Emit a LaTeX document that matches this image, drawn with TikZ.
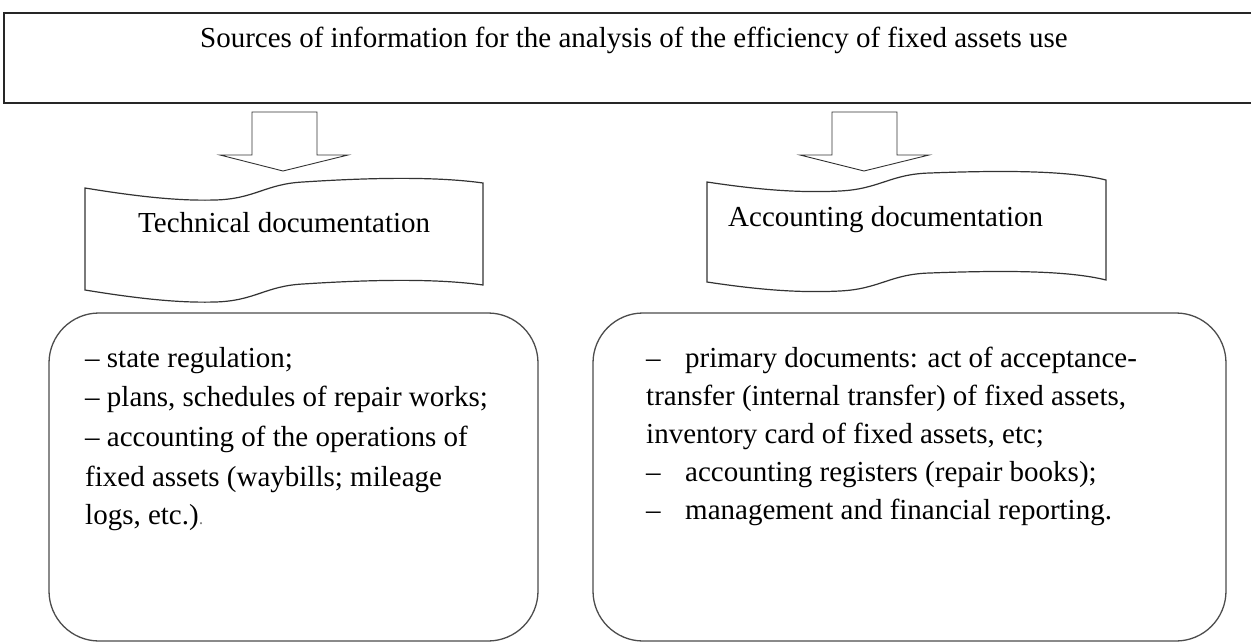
\documentclass[tikz,border=0pt]{standalone}
\usepackage{fontspec}
\setmainfont{Liberation Serif}
\begin{document}
\begin{tikzpicture}[x=1pt,y=-1pt,
  frame/.style={draw=black!85,line width=1.6pt},
  blockarrow/.style={draw=black!80,line width=0.9pt,fill=white,line join=miter},
  docshape/.style={draw=black!80,line width=1.2pt,fill=white},
  roundbox/.style={draw=black!70,line width=1.3pt,rounded corners=50pt},
  txt/.style={inner sep=0pt,anchor=base west,font=\fontsize{29}{34}\selectfont},
  head/.style={inner sep=0pt,anchor=base,font=\fontsize{29}{34}\selectfont}
]
\useasboundingbox (0,0) rectangle (1251,642);
% top frame (open at right edge)
\draw[frame] (1251,13) -- (4,13) -- (4,103) -- (1251,103);
\node[head] (title) at (634,48) {Sources of information for the analysis of the efficiency of fixed assets use};

% block arrows
\draw[blockarrow] (252,112) -- (317,112) -- (317,155) -- (348,155) -- (283,171) -- (220,155) -- (252,155) -- cycle;
\draw[blockarrow] (832,112) -- (897,112) -- (897,155) -- (929,155) -- (864,171) -- (800,155) -- (832,155) -- cycle;

% document (wave) shapes
\draw[docshape] (85,188) .. controls (140,197) and (180,201) .. (215,200)
  .. controls (255,199) and (265,184) .. (303,182)
  .. controls (380,177) and (440,177) .. (483,183)
  -- (483,285)
  .. controls (440,279) and (380,279) .. (303,284)
  .. controls (265,286) and (255,301) .. (215,302)
  .. controls (180,303) and (140,299) .. (85,290) -- cycle;
\draw[docshape] (707,182) .. controls (760,190) and (800,193) .. (840,191)
  .. controls (880,189) and (890,174) .. (930,173)
  .. controls (1010,170) and (1070,171) .. (1106,180)
  -- (1106,280)
  .. controls (1070,271) and (1010,270) .. (930,273)
  .. controls (890,274) and (880,289) .. (840,291)
  .. controls (800,293) and (760,290) .. (707,282) -- cycle;
\node[txt] (tech) at (138,232) {Technical documentation};
\node[txt] (acc) at (728,226) {Accounting documentation};

% rounded boxes
\draw[roundbox] (49,313) rectangle (538,641);
\draw[roundbox] (593,313) rectangle (1226,641);

% left box text
\node[txt] (l1) at (85,367) {– state regulation;};
\node[txt] (l2) at (85,406) {– plans, schedules of repair works;};
\node[txt] (l3) at (85,446) {– accounting of the operations of};
\node[txt] (l4) at (85,486) {fixed assets (waybills; mileage};
\node[txt] (l5) at (85,524) {logs, etc.)\textcolor{black!50}{\fontsize{18}{20}\selectfont .}};

% right box text
\node[txt] (r1d) at (646,367) {–};
\node[txt] (r1) at (685,367) {primary documents: act of acceptance-};
\node[txt] (r2) at (646,405) {transfer (internal transfer) of fixed assets,};
\node[txt] (r3) at (646,443) {inventory card of fixed assets, etc;};
\node[txt] (r4d) at (646,481) {–};
\node[txt] (r4) at (685,481) {accounting registers (repair books);};
\node[txt] (r5d) at (646,519) {–};
\node[txt] (r5) at (685,519) {management and financial reporting.};
\end{tikzpicture}
\end{document}
